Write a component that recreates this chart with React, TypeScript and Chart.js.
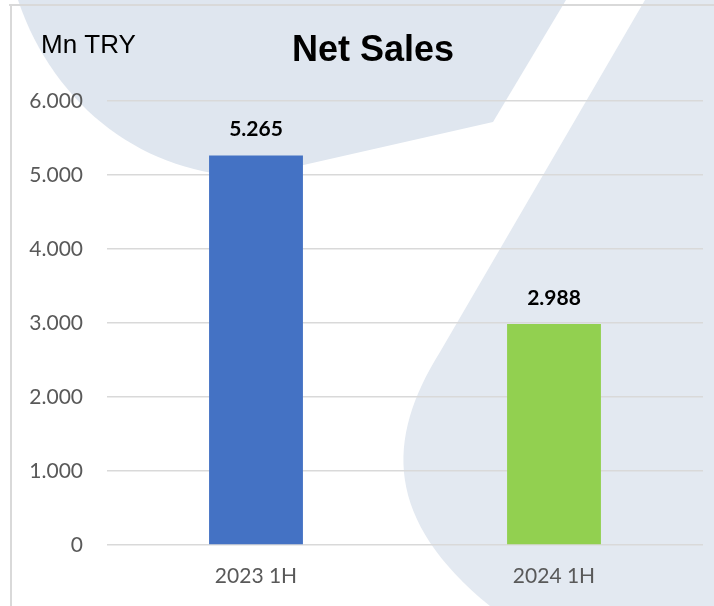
import React, { useEffect, useRef } from "react";
import { Chart, registerables } from "chart.js";

Chart.register(...registerables);

const categories = ["2023 1H", "2024 1H"];
const netSales = [5265, 2988];
const barColors = ["#4472C4", "#92D050"];
const yTicks = [0, 1000, 2000, 3000, 4000, 5000, 6000];
const titleText = "Net Sales";
const unitText = "Mn TRY";

const fmt = (v: number) => {
  const s = Math.round(v).toString();
  return s.replace(/\B(?=(\d{3})+(?!\d))/g, ".");
};

const backgroundPlugin = {
  id: "bgShapes",
  beforeDraw(chart: any) {
    const ctx = chart.ctx;
    ctx.save();
    ctx.fillStyle = "#ffffff";
    ctx.fillRect(0, 0, chart.width, chart.height);
    // decorative shape top-left
    ctx.fillStyle = "#dfe6ef";
    ctx.beginPath();
    ctx.moveTo(18, 0);
    ctx.bezierCurveTo(55, 110, 150, 178, 255, 176);
    ctx.lineTo(493, 122);
    ctx.lineTo(566, 0);
    ctx.closePath();
    ctx.fill();
    // decorative shape right
    ctx.fillStyle = "#e3e9f1";
    ctx.beginPath();
    ctx.moveTo(645, 0);
    ctx.lineTo(440, 352);
    ctx.bezierCurveTo(385, 440, 385, 520, 490, 606);
    ctx.lineTo(714, 606);
    ctx.lineTo(714, 0);
    ctx.closePath();
    ctx.fill();
    // frame lines
    ctx.strokeStyle = "#d9d9d9";
    ctx.lineWidth = 2;
    ctx.beginPath();
    ctx.moveTo(9, 5);
    ctx.lineTo(714, 5);
    ctx.moveTo(11, 5);
    ctx.lineTo(11, 606);
    ctx.stroke();
    // texts
    ctx.fillStyle = "#000000";
    ctx.textBaseline = "alphabetic";
    ctx.textAlign = "center";
    ctx.font = "bold 36px 'Liberation Sans', Arial, sans-serif";
    ctx.fillText(titleText, 373, 61);
    ctx.textAlign = "left";
    ctx.font = "26px 'Liberation Sans', Arial, sans-serif";
    ctx.fillText(unitText, 41, 53);
    ctx.restore();
  },
};

const labelPlugin = {
  id: "valueLabels",
  afterDatasetsDraw(chart: any) {
    const ctx = chart.ctx;
    const meta = chart.getDatasetMeta(0);
    ctx.save();
    ctx.fillStyle = "#000000";
    ctx.font = "bold 21px Lato, sans-serif";
    ctx.textAlign = "center";
    ctx.textBaseline = "alphabetic";
    meta.data.forEach((bar: any, i: number) => {
      ctx.fillText(fmt(netSales[i]), bar.x, bar.y - 19);
    });
    ctx.restore();
  },
};

export default function App() {
  const ref = useRef<HTMLCanvasElement>(null);
  useEffect(() => {
    if (!ref.current) return;
    const chart = new Chart(ref.current, {
      type: "bar",
      data: {
        labels: categories,
        datasets: [
          {
            data: netSales,
            backgroundColor: barColors,
            barPercentage: 0.315,
            categoryPercentage: 1,
          },
        ],
      },
      options: {
        responsive: false,
        animation: false,
        layout: { padding: { top: 101, right: 11, left: 0, bottom: 0 } },
        plugins: {
          legend: { display: false },
          tooltip: { enabled: false },
          title: { display: false },
        },
        scales: {
          x: {
            grid: { display: false, drawTicks: false },
            border: { display: false },
            ticks: {
              color: "#595959",
              font: { family: "Lato", size: 21 },
              padding: 19,
            },
            afterFit: (s: any) => {
              s.height = 61;
            },
          },
          y: {
            min: 0,
            max: 6000,
            afterBuildTicks: (s: any) => {
              s.ticks = yTicks.map((v) => ({ value: v }));
            },
            grid: { color: "#d9d9d9", lineWidth: 1.5, drawTicks: false },
            border: { display: false },
            ticks: {
              color: "#595959",
              font: { family: "Lato", size: 21 },
              padding: 24,
              callback: (v: any) => fmt(Number(v)),
            },
            afterFit: (s: any) => {
              s.width = 107;
            },
          },
        },
      },
      plugins: [backgroundPlugin, labelPlugin],
    });
    return () => chart.destroy();
  }, []);
  return (
    <div style={{ position: "fixed", left: 0, top: 0, width: 714, height: 606 }}>
      <canvas ref={ref} width={714} height={606} style={{ width: 714, height: 606 }} />
    </div>
  );
}
